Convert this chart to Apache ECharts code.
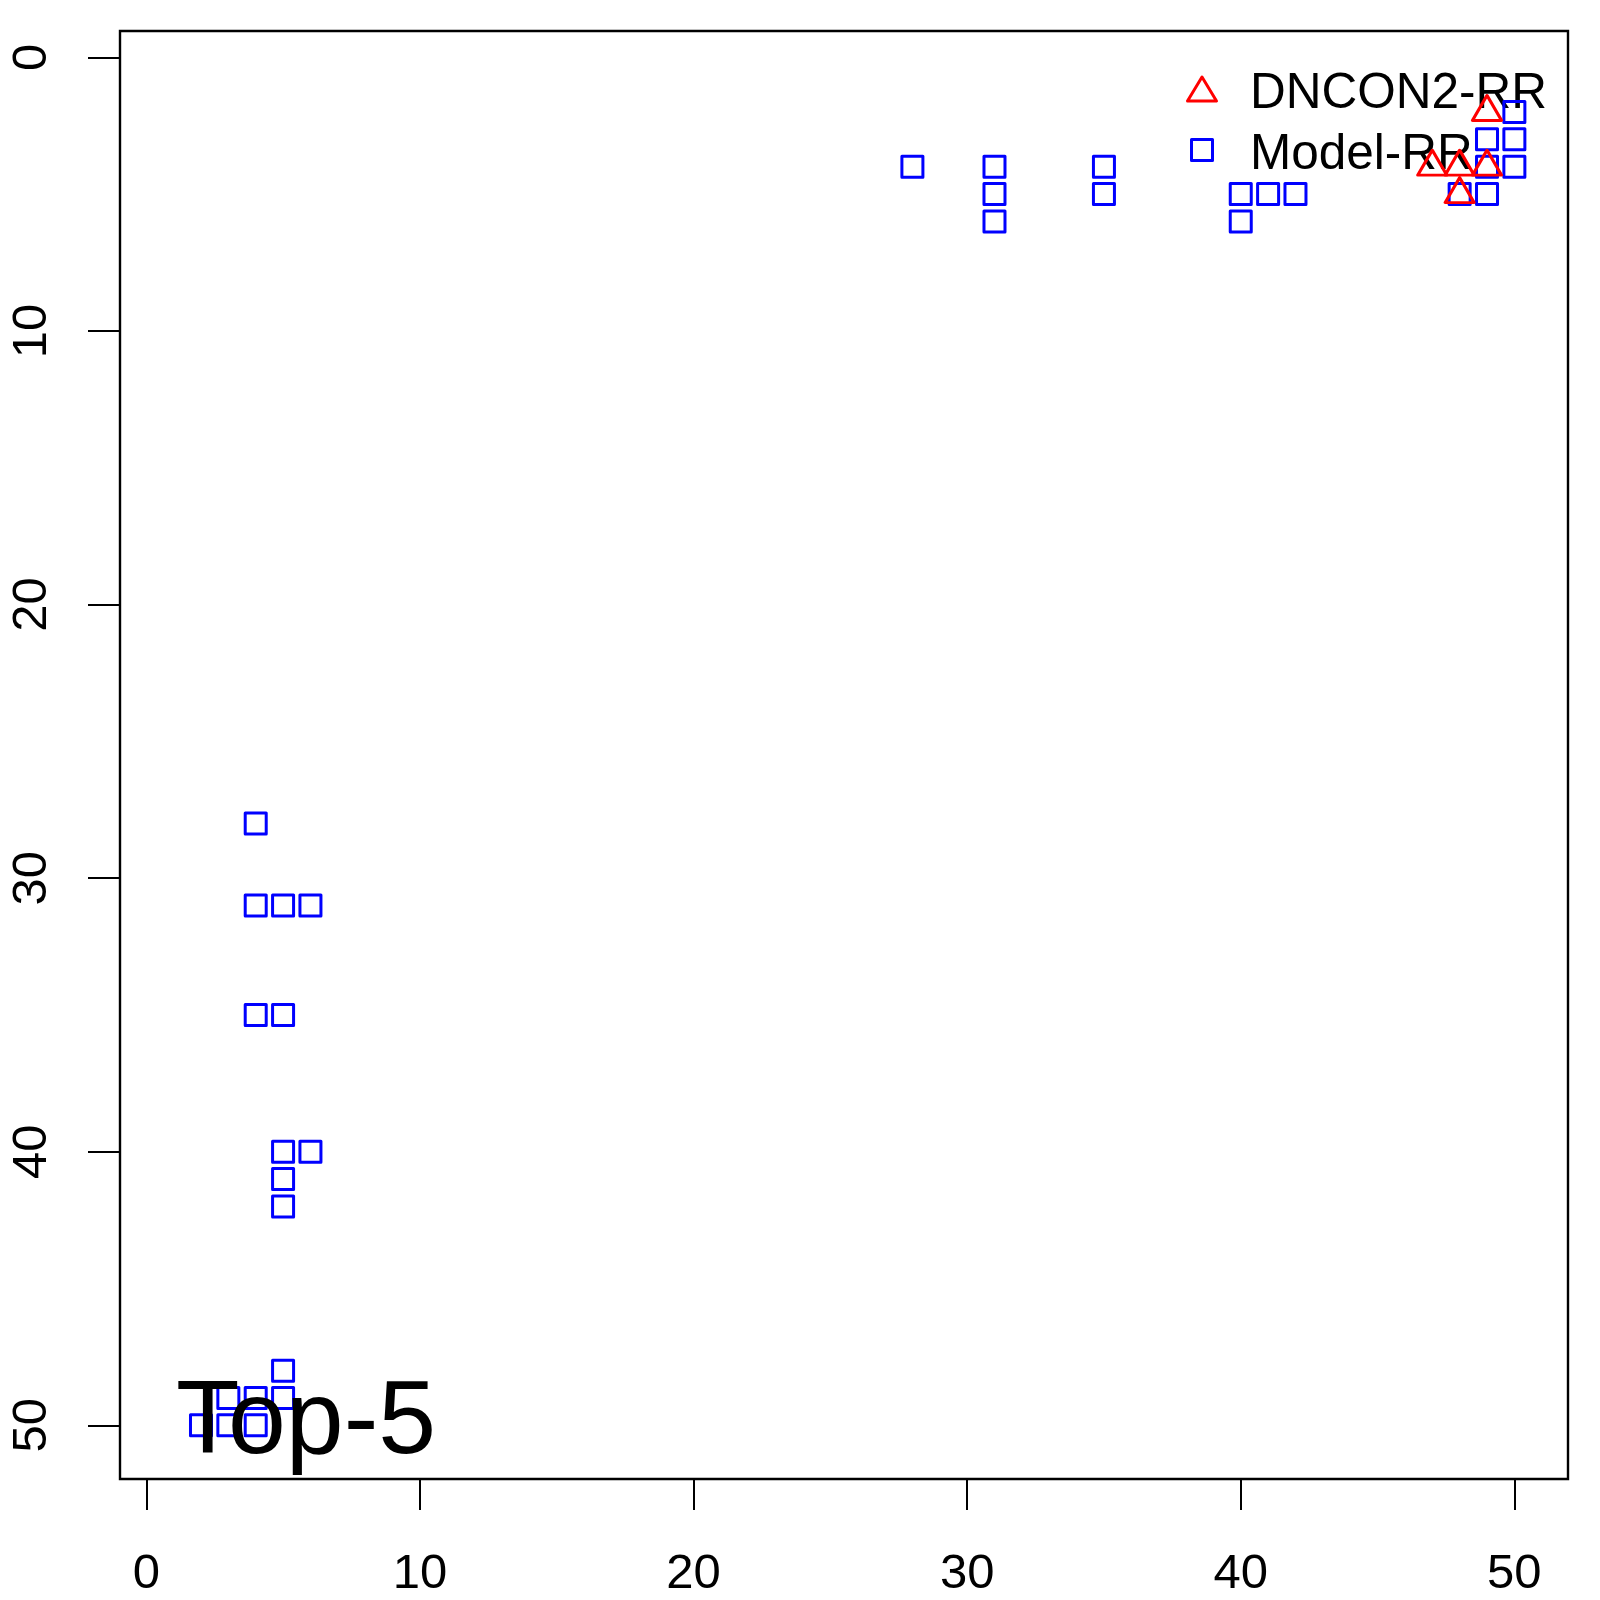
<!DOCTYPE html>
<html>
<head>
<meta charset="utf-8">
<script src="https://cdn.jsdelivr.net/npm/echarts@6/dist/echarts.min.js"></script>
<style>
html,body{margin:0;padding:0;background:#fff;}
#chart{width:1600px;height:1600px;}
</style>
</head>
<body>
<div id="chart"></div>
<script>
// ---- data ----
const modelX = [28,31,31,31,35,35,40,40,41,42,48,49,49,49,50,50,50, 4,4,5,6,4,5,5,6,5,5,5,3,4,5,2,3,4];
const modelY = [4,4,5,6,4,5,5,6,5,5,5,3,4,5,2,3,4, 28,31,31,31,35,35,40,40,41,42,48,49,49,49,50,50,50];
const dnconX = [49,47,48,49,48];
const dnconY = [2,4,4,4,5];
const xTicks = [0,10,20,30,40,50];
const yTicks = [0,10,20,30,40,50];
const seriesNames = ['DNCON2-RR','Model-RR'];
const panelLabel = 'Top-5';

const FONT = '"Liberation Sans", Arial, Helvetica, sans-serif';
const chart = echarts.init(document.getElementById('chart'), null, {renderer:'canvas'});

function pts(xs, ys){ return xs.map((x,i)=>[x, ys[i]]); }

const option = {
  animation: false,
  backgroundColor: '#ffffff',
  grid: {left:120, top:31, right:32, bottom:121, show:true, borderColor:'#000', borderWidth:2.4, backgroundColor:'transparent'},
  xAxis: {
    type:'value', min:-0.96, max:51.96, position:'bottom',
    splitLine:{show:false},
    axisLine:{show:false, onZero:false},
    axisTick:{show:true, inside:false, length:31, lineStyle:{color:'#000', width:2}, customValues:xTicks},
    axisLabel:{show:true, customValues:xTicks, fontFamily:FONT, fontSize:49, color:'#000', margin:71}
  },
  yAxis: {
    type:'value', inverse:true, min:-0.96, max:51.96, position:'left',
    splitLine:{show:false},
    axisLine:{show:false, onZero:false},
    axisTick:{show:true, inside:false, length:32, lineStyle:{color:'#000', width:2}, customValues:yTicks},
    axisLabel:{show:true, customValues:yTicks, rotate:90, fontFamily:FONT, fontSize:49, color:'#000', margin:63}
  },
  series: [
    {
      name: seriesNames[1], type:'scatter', z:3,
      symbol:'rect', symbolSize:21,
      itemStyle:{color:'transparent', borderColor:'#0000FF', borderWidth:3, borderJoin:'round', opacity:1},
      data: pts(modelX, modelY)
    },
    {
      name: seriesNames[0], type:'scatter', z:4,
      symbol:'triangle', symbolSize:[29,25], symbolOffset:[0,-4],
      itemStyle:{color:'transparent', borderColor:'#FF0000', borderWidth:3, borderJoin:'round', opacity:1},
      data: pts(dnconX, dnconY)
    }
  ],
  graphic: [
    {type:'polygon', z:1, shape:{points:[[1202,77],[1216.5,101],[1187.5,101]]},
     style:{fill:'transparent', stroke:'#FF0000', lineWidth:3, lineJoin:'round'}},
    {type:'rect', z:1, shape:{x:1191.5, y:139.5, width:21, height:21},
     style:{fill:'transparent', stroke:'#0000FF', lineWidth:3, lineJoin:'round'}},
    {type:'text', z:1, x:1250, y:94, style:{text:seriesNames[0], font:'49.5px '+FONT, fill:'#000', verticalAlign:'middle', align:'left'}},
    {type:'text', z:1, x:1250, y:155, style:{text:seriesNames[1], font:'49.5px '+FONT, fill:'#000', verticalAlign:'middle', align:'left'}},
    {type:'text', z:100, x:176, y:1424, style:{text:panelLabel, font:'104px '+FONT, fill:'#000', verticalAlign:'middle', align:'left'}}
  ]
};
chart.setOption(option);
</script>
</body>
</html>
